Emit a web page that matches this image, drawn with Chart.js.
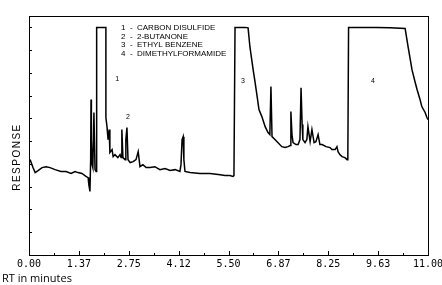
<!DOCTYPE html>
<html>
<head>
<title>Chromatogram</title>
<script src="https://cdn.jsdelivr.net/npm/chart.js"></script>
<style>
  body { margin: 0; background: #fff; }
</style>
</head>
<body>
<canvas id="chromChart" width="442" height="285"></canvas>
<script>
// retention time (minutes) and detector response
const rtMin = [
  0.03, 0.06, 0.11, 0.17, 0.25, 0.36, 0.47, 0.58, 0.72, 0.88, 1.02, 1.16, 1.27, 1.35, 1.46, 1.57, 1.63, 1.65, 1.68,
  1.70, 1.71, 1.72, 1.74, 1.76, 1.79, 1.81, 1.82, 1.85, 1.86, 1.87,
  2.12, 2.12, 2.15, 2.18, 2.21, 2.23, 2.29, 2.32, 2.37, 2.45, 2.51, 2.54, 2.56, 2.59, 2.65, 2.67, 2.70, 2.73,
  2.79, 2.87, 2.95, 3.01, 3.06, 3.14, 3.23, 3.34, 3.47, 3.61, 3.75, 3.89, 4.03, 4.16,
  4.19, 4.22, 4.25, 4.27, 4.30, 4.44, 4.71, 4.99, 5.27, 5.40, 5.54, 5.62, 5.65,
  5.68, 5.82, 5.95, 6.04, 6.09, 6.18, 6.23, 6.29, 6.34, 6.42, 6.51, 6.59, 6.64, 6.67, 6.70,
  6.78, 6.86, 6.97, 7.06, 7.14, 7.20, 7.22, 7.25, 7.28, 7.36, 7.42, 7.47, 7.50, 7.53, 7.55,
  7.61, 7.66, 7.69, 7.75, 7.80, 7.86, 7.91, 7.97, 8.02, 8.08, 8.19, 8.30, 8.35, 8.44, 8.49,
  8.52, 8.57, 8.63, 8.71, 8.77, 8.79,
  8.81, 9.12, 9.59, 9.95, 10.37, 10.45, 10.56, 10.64, 10.70, 10.78, 10.83, 10.92, 10.97, 11.00
];
const response = [
  4.19, 4.06, 3.84, 3.62, 3.71, 3.84, 3.88, 3.84, 3.75, 3.67, 3.67, 3.58, 3.67, 3.62, 3.58, 3.45, 3.40, 3.09, 2.79,
  4.19, 6.83, 5.07, 3.97, 3.84, 6.26, 4.63, 3.75, 3.67, 4.19, 10.0,
  10.0, 6.04, 5.64, 5.07, 5.51, 4.50, 4.63, 4.32, 4.41, 4.28, 4.41, 4.28, 5.51, 4.28, 4.19, 5.07, 5.60, 4.19,
  4.06, 4.10, 4.19, 4.54, 3.88, 3.97, 3.84, 3.84, 3.88, 3.75, 3.80, 3.71, 3.75, 3.67,
  3.97, 5.07, 5.20, 4.19, 3.67, 3.62, 3.58, 3.58, 3.53, 3.49, 3.49, 3.45, 3.49,
  10.0, 10.0, 10.0, 9.98, 9.15, 8.13, 7.62, 6.96, 6.39, 6.08, 5.64, 5.38, 5.29, 7.40, 5.20,
  5.07, 4.94, 4.76, 4.72, 4.76, 4.81, 6.30, 5.29, 4.94, 4.85, 4.85, 5.07, 7.35, 5.73, 5.07,
  4.94, 5.07, 5.64, 4.98, 5.51, 4.94, 4.98, 5.29, 4.85, 4.85, 4.76, 4.72, 4.63, 4.63, 4.76,
  4.54, 4.41, 4.32, 4.28, 4.19, 4.28,
  10.0, 10.0, 10.0, 9.98, 9.95, 9.15, 8.13, 7.62, 7.26, 6.83, 6.52, 6.26, 6.04, 5.95
];

const xTickLabels = ['0.00', '1.37', '2.75', '4.12', '5.50', '6.87', '8.25', '9.63', '11.00'];
const yTickValues = [1, 2, 3, 4, 5, 6, 7, 8, 9, 10];
const legendLines = ['1  -  CARBON DISULFIDE', '2  -  2-BUTANONE', '3  -  ETHYL BENZENE', '4  -  DIMETHYLFORMAMIDE'];
const peakNames = ['1', '2', '3', '4'];
const peakNameRt = [2.43, 2.73, 5.90, 9.48];
const peakNameResp = [7.75, 6.04, 7.66, 7.66];

const decor = {
  id: 'decor',
  afterDraw(chart) {
    const ctx = chart.ctx;
    const a = chart.chartArea;
    const x = chart.scales.x, y = chart.scales.y;
    ctx.save();
    ctx.strokeStyle = '#000';
    ctx.lineWidth = 1;
    ctx.strokeRect(Math.round(a.left) + 0.5, Math.round(a.top) + 0.5,
      Math.round(a.right - a.left), Math.round(a.bottom - a.top));

    // tick marks point into the plot
    ctx.beginPath();
    x.ticks.forEach((t, i) => {
      const px = Math.round(x.getPixelForValue(t.value)) + 0.5;
      const len = i % 2 === 0 ? 4 : 2;
      ctx.moveTo(px, a.bottom);
      ctx.lineTo(px, a.bottom - len);
    });
    yTickValues.forEach(v => {
      const py = Math.round(y.getPixelForValue(v)) + 0.5;
      ctx.moveTo(a.left, py);
      ctx.lineTo(a.left + 3, py);
    });
    ctx.stroke();

    ctx.fillStyle = '#000';
    ctx.font = '8px "Liberation Sans"';
    ctx.textBaseline = 'middle';
    ctx.textAlign = 'left';
    legendLines.forEach((s, i) => ctx.fillText(s, 121, 28 + i * 8.5));

    ctx.font = '7px "Liberation Sans"';
    ctx.textAlign = 'center';
    peakNames.forEach((s, i) => {
      ctx.fillText(s, x.getPixelForValue(peakNameRt[i]), y.getPixelForValue(peakNameResp[i]));
    });

    ctx.font = '11px "Open Sans"';
    ctx.textAlign = 'left';
    ctx.textBaseline = 'alphabetic';
    ctx.fillText('RT in minutes', 2, 282);

    ctx.translate(17, 157);
    ctx.rotate(-Math.PI / 2);
    ctx.font = '10px "Liberation Sans"';
    ctx.letterSpacing = '1.5px';
    ctx.textAlign = 'center';
    ctx.textBaseline = 'middle';
    ctx.fillText('RESPONSE', 0, 0);
    ctx.restore();
  }
};

const ctx = document.getElementById('chromChart').getContext('2d');
new Chart(ctx, {
  type: 'line',
  data: {
    datasets: [{
      data: rtMin.map((t, i) => ({ x: t, y: response[i] })),
      borderColor: '#000',
      borderWidth: 1.5,
      pointRadius: 0,
      tension: 0
    }]
  },
  options: {
    responsive: false,
    animation: false,
    devicePixelRatio: 1,
    layout: { padding: { left: 29, right: 14, top: 16, bottom: 0 } },
    plugins: { legend: { display: false }, tooltip: { enabled: false } },
    scales: {
      x: {
        type: 'linear',
        min: 0,
        max: 11,
        border: { display: false },
        grid: { display: false, drawTicks: false },
        afterBuildTicks(scale) {
          const ticks = [];
          for (let i = 0; i <= 16; i++) ticks.push({ value: i * 11 / 16 });
          scale.ticks = ticks;
        },
        afterFit(scale) {
          scale.height = 30;
          scale.paddingLeft = 0;
          scale.paddingRight = 0;
        },
        ticks: {
          autoSkip: false,
          maxRotation: 0,
          padding: 3,
          color: '#000',
          font: { family: 'DejaVu Sans Mono', size: 10 },
          callback: (v, i) => (i % 2 === 0 ? xTickLabels[i / 2] : '')
        }
      },
      y: { display: false, min: 0, max: 10.5 }
    }
  },
  plugins: [decor]
});
</script>
</body>
</html>
